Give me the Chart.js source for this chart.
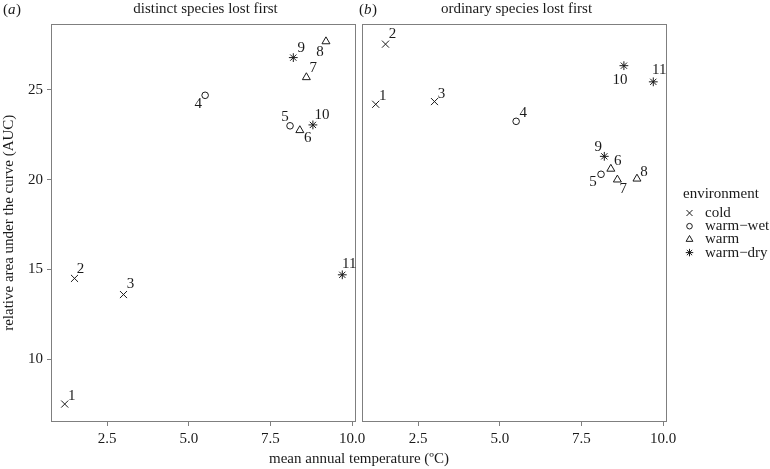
<!DOCTYPE html>
<html>
<head>
<meta charset="utf-8">
<script src="https://cdn.jsdelivr.net/npm/chart.js@4.4.1/dist/chart.umd.min.js"></script>
<style>
  html, body { margin: 0; padding: 0; background: #fff; }
  #wrap { position: relative; width: 770px; height: 469px; }
</style>
</head>
<body>
<div id="wrap"><canvas id="auc" width="770" height="469"></canvas></div>
<script>
// sites, their environment and mean annual temperature
var sites = ['1', '2', '3', '4', '5', '6', '7', '8', '9', '10', '11'];
var siteEnv = ['cold', 'cold', 'cold', 'warm−wet', 'warm−wet', 'warm', 'warm', 'warm', 'warm−dry', 'warm−dry', 'warm−dry'];
var temperature = [1.2, 1.5, 3.0, 5.5, 8.1, 8.4, 8.6, 9.2, 8.2, 8.8, 9.7];

// relative AUC, one array per panel
var aucDistinct = [7.5, 14.5, 13.6, 24.7, 23.0, 22.75, 25.7, 27.7, 26.8, 23.05, 14.7];
var aucOrdinary = [24.2, 27.55, 24.35, 23.25, 20.3, 20.6, 20.0, 20.05, 21.3, 26.35, 25.45];

var envNames = ['cold', 'warm−wet', 'warm', 'warm−dry'];
var xTicks = [2.5, 5.0, 7.5, 10.0];
var yTicks = [10, 15, 20, 25];

var FONT = '"Liberation Serif", "DejaVu Serif", serif';
var INK = '#1a1a1a';
var FRAME = '#7f7f7f';

var shapes = {'cold': 'crossRot', 'warm−wet': 'circle', 'warm': 'triangle', 'warm−dry': 'star'};
var radii = {crossRot: 5, circle: 3.3, triangle: 4.6, star: 4.4};

// where each site number sits relative to its marker (px), like ggrepel did
var labelNudge = {
  a: [[7, -8], [6, -9], [7, -10], [-7, 9], [-5, -9], [8, 8], [7, -9], [-6, 11], [8, -10], [9, -10], [7, -11]],
  b: [[7, -8], [7, -10], [7, -8], [7, -8], [-8, 8], [7, -8], [6, 9], [7, -7], [-6, -9], [-4, 14], [6, -12]]
};

var panels = [
  {key: 'a', axis: 'xa', title: 'distinct species lost first', values: aucDistinct},
  {key: 'b', axis: 'xb', title: 'ordinary species lost first', values: aucOrdinary}
];

var datasets = [];
panels.forEach(function (p) {
  envNames.forEach(function (env) {
    var pts = [];
    sites.forEach(function (s, i) {
      if (siteEnv[i] === env) pts.push({x: temperature[i], y: p.values[i], site: s, idx: i});
    });
    datasets.push({
      label: env,
      panel: p.key,
      xAxisID: p.axis,
      yAxisID: 'y',
      data: pts,
      pointStyle: shapes[env],
      pointRadius: radii[shapes[env]],
      pointBorderColor: INK,
      pointBackgroundColor: 'rgba(0,0,0,0)',
      pointBorderWidth: 1
    });
  });
});

function xAxis(weight) {
  return {
    type: 'linear',
    position: 'bottom',
    stack: 'panels',
    stackWeight: weight,
    min: 0.78,
    max: 10.12,
    afterBuildTicks: function (s) { s.ticks = xTicks.map(function (v) { return {value: v}; }); },
    afterFit: function (s) { s.height = 47; },
    ticks: {
      autoSkip: false, maxRotation: 0, padding: 4, color: INK,
      font: {family: FONT, size: 15},
      callback: function (v) { return Number(v).toFixed(1); }
    },
    grid: {drawOnChartArea: false, drawTicks: true, tickLength: 4, color: FRAME},
    border: {display: false}
  };
}

var gapAxis = {
  type: 'linear', position: 'bottom', stack: 'panels', stackWeight: 6,
  min: 0, max: 1,
  afterFit: function (s) { s.height = 47; },
  ticks: {display: false},
  grid: {display: false},
  border: {display: false}
};

var decor = {
  id: 'decor',
  beforeDatasetsDraw: function (chart) {
    var ctx = chart.ctx;
    var y = chart.scales.y;
    ctx.save();
    ctx.strokeStyle = FRAME;
    ctx.lineWidth = 1;
    ['xa', 'xb'].forEach(function (id) {
      var s = chart.scales[id];
      ctx.strokeRect(Math.round(s.left) + 0.5, Math.round(y.top) + 0.5,
        Math.round(s.right) - Math.round(s.left) - 1, Math.round(y.bottom) - Math.round(y.top) - 1);
    });
    ctx.restore();
  },
  afterDraw: function (chart) {
    var ctx = chart.ctx;
    ctx.save();
    ctx.fillStyle = INK;
    ctx.textBaseline = 'middle';

    // panel tags and strip titles
    var tags = [{t: 'a', x: 3, ax: 'xa'}, {t: 'b', x: 359, ax: 'xb'}];
    tags.forEach(function (tg, k) {
      var x = tg.x;
      ctx.textAlign = 'left';
      ctx.font = '15px ' + FONT;
      ctx.fillText('(', x, 10);
      x += ctx.measureText('(').width;
      ctx.font = 'italic 15px ' + FONT;
      ctx.fillText(tg.t, x, 10);
      x += ctx.measureText(tg.t).width + 0.5;
      ctx.font = '15px ' + FONT;
      ctx.fillText(')', x, 10);

      var s = chart.scales[tg.ax];
      ctx.textAlign = 'center';
      ctx.fillText(panels[k].title, (s.left + s.right) / 2 + 2, 9);
    });

    // shared x title
    var a = chart.scales.xa, b = chart.scales.xb;
    ctx.textAlign = 'center';
    ctx.fillText('mean annual temperature (ºC)', (a.left + b.right) / 2, 459);

    // legend
    ctx.textAlign = 'left';
    ctx.fillText('environment', 683, 194);
    envNames.forEach(function (env, i) {
      var yy = 213 + i * 13.2;
      ctx.strokeStyle = INK;
      ctx.fillStyle = 'rgba(0,0,0,0)';
      Chart.helpers.drawPoint(ctx, {pointStyle: shapes[env], radius: radii[shapes[env]] * 0.85, rotation: 0, borderWidth: 1}, 689.5, yy);
      ctx.fillStyle = INK;
      ctx.fillText(env, 705, yy);
    });
    ctx.restore();
  }
};

var siteLabels = {
  id: 'siteLabels',
  afterDatasetsDraw: function (chart) {
    var ctx = chart.ctx;
    ctx.save();
    ctx.font = '15px ' + FONT;
    ctx.fillStyle = INK;
    ctx.textAlign = 'center';
    ctx.textBaseline = 'middle';
    chart.data.datasets.forEach(function (ds, d) {
      var meta = chart.getDatasetMeta(d);
      meta.data.forEach(function (el, j) {
        var pt = ds.data[j];
        var n = labelNudge[ds.panel][pt.idx];
        ctx.fillText(pt.site, el.x + n[0], el.y + n[1]);
      });
    });
    ctx.restore();
  }
};

new Chart(document.getElementById('auc').getContext('2d'), {
  type: 'scatter',
  data: {datasets: datasets},
  options: {
    responsive: false,
    animation: false,
    events: [],
    layout: {padding: {top: 23.5, right: 103, left: 0, bottom: 0}},
    plugins: {legend: {display: false}, tooltip: {enabled: false}},
    scales: {
      xa: xAxis(305),
      xgap: gapAxis,
      xb: xAxis(305),
      y: {
        type: 'linear',
        position: 'left',
        min: 6.5,
        max: 28.7,
        afterBuildTicks: function (s) { s.ticks = yTicks.map(function (v) { return {value: v}; }); },
        afterFit: function (s) { s.width = 51; },
        ticks: {padding: 4, color: INK, font: {family: FONT, size: 15}},
        grid: {drawOnChartArea: false, drawTicks: true, tickLength: 4, color: FRAME},
        border: {display: false},
        title: {
          display: true,
          text: 'relative area under the curve (AUC)',
          color: INK,
          font: {family: FONT, size: 15},
          padding: {top: 0, bottom: 0}
        }
      }
    }
  },
  plugins: [decor, siteLabels]
});
</script>
</body>
</html>
